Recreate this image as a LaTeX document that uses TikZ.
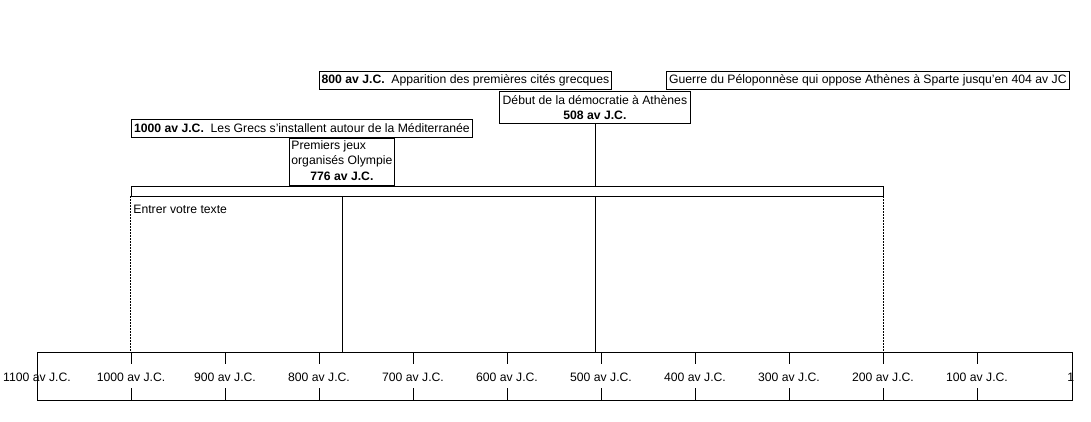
\documentclass[tikz,border=0pt]{standalone}
\usepackage{fontspec}
\setmainfont{Liberation Sans}
\begin{document}
\begin{tikzpicture}[x=1pt,y=-1pt, line width=0.8pt,
  font=\fontsize{12.2}{14.8}\selectfont,
  evbox/.style={draw, fill=white, inner xsep=2pt, inner ysep=1pt, anchor=north west},
  lbl/.style={inner sep=0pt},
  dotline/.style={dash pattern=on 1.5pt off 1.5pt}]
\useasboundingbox (0,0) rectangle (1091,422);
% axis
\node[draw, fill=white, minimum width=1035pt, minimum height=48pt, inner sep=0pt] (axis) at (554.5,376) {};
\foreach \x in {131,225,319,413,507,601,695,789,883,977}{
  \draw (\x,352) -- (\x,364);
  \draw (\x,388) -- (\x,400);
}
\foreach \x/\t in {37/1100,131/1000,225/900,319/800,413/700,507/600,601/500,695/400,789/300,883/200,977/100}
  \node[lbl] (t\t) at (\x,377) {\t\ av J.C.};
\node[lbl, anchor=west] (t0) at (1067,377) {1};
% bar
\node[draw, fill=white, minimum width=752pt, minimum height=10pt, inner sep=0pt] (bar) at (507,191) {};
\node[lbl, anchor=west] (txt) at (133,209) {Entrer votre texte};
% events
\node[evbox, minimum width=341pt, minimum height=18pt] (e1000) at (131,119)
  {\textbf{1000 av J.C.}\ \ Les Grecs s’installent autour de la Méditerranée};
\node[evbox, minimum width=105pt, minimum height=47pt, inner xsep=1pt, inner ysep=0pt] (e776) at (289,138)
  {\renewcommand\arraystretch{1.03}\begin{tabular}{@{}l@{}}Premiers jeux\\organisés Olympie\\\multicolumn{1}{@{}c@{}}{\textbf{776 av J.C.}}\end{tabular}};
\node[evbox, minimum width=292pt, minimum height=18pt] (e800) at (319,71)
  {\textbf{800 av J.C.}\ \ Apparition des premières cités grecques};
\node[evbox, minimum width=191pt, minimum height=32pt, align=center] (e508) at (499,91)
  {Début de la démocratie à Athènes\\\textbf{508 av J.C.}};
\node[evbox, minimum width=403pt, minimum height=18pt, align=center] (eg) at (666,71)
  {Guerre du Péloponnèse qui oppose Athènes à Sparte jusqu'en 404 av JC};
% connectors
\draw (e508.south) -- (e508.south |- bar.north);
\draw (e508.south |- bar.south) -- (e508.south |- axis.north);
\draw (e776.south |- bar.south) -- (e776.south |- axis.north);
\draw[dotline] (bar.south west) -- (bar.south west |- axis.north);
\draw[dotline] (bar.south east) -- (bar.south east |- axis.north);
\end{tikzpicture}
\end{document}
